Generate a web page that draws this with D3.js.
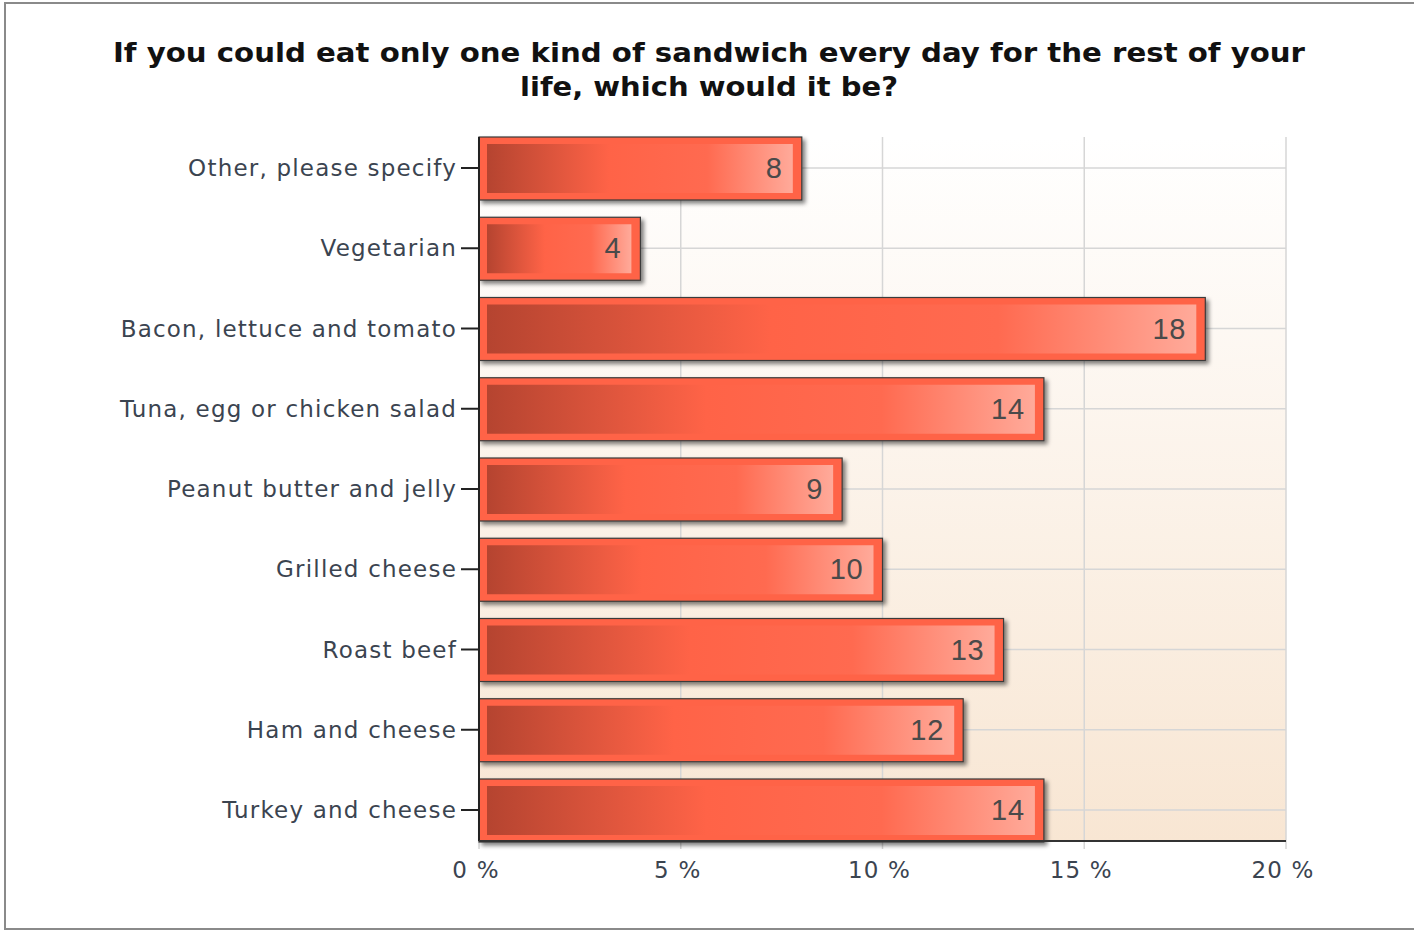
<!DOCTYPE html>
<html><head><meta charset="utf-8">
<script src="https://cdn.jsdelivr.net/npm/d3@7/dist/d3.min.js"></script>
<style>body{margin:0;background:#fff}svg{display:block}</style>
</head><body>
<script>
const categories = ["Other, please specify","Vegetarian","Bacon, lettuce and tomato","Tuna, egg or chicken salad","Peanut butter and jelly","Grilled cheese","Roast beef","Ham and cheese","Turkey and cheese"];
const values = [8,4,18,14,9,10,13,12,14];
const xTicks = [0,5,10,15,20];
const titleLines = ["If you could eat only one kind of sandwich every day for the rest of your","life, which would it be?"];

(function(){
const W=1414,H=931;
const svg=d3.select("body").append("svg").attr("width",W).attr("height",H);
const defs=svg.append("defs");
const bg=defs.append("linearGradient").attr("id","bg").attr("x1",0).attr("y1",0).attr("x2",0).attr("y2",1);
bg.append("stop").attr("offset",0).attr("stop-color","#ffffff");
bg.append("stop").attr("offset",1).attr("stop-color","#f8e6d3");
const bar=defs.append("linearGradient").attr("id","bar").attr("x1",0).attr("y1",0).attr("x2",1).attr("y2",0);
bar.append("stop").attr("offset",0).attr("stop-color","#b54430");
bar.append("stop").attr("offset",0.4).attr("stop-color","#ff6347");
bar.append("stop").attr("offset",0.72).attr("stop-color","#ff6a50");
bar.append("stop").attr("offset",1).attr("stop-color","#ffaa9a");
const f=defs.append("filter").attr("id","sh").attr("x","-10%").attr("y","-20%").attr("width","130%").attr("height","150%");
f.append("feGaussianBlur").attr("in","SourceAlpha").attr("stdDeviation",2);
f.append("feOffset").attr("dx",3).attr("dy",3).attr("result","b");
f.append("feComponentTransfer").append("feFuncA").attr("type","linear").attr("slope",0.5);
const m=f.append("feMerge");m.append("feMergeNode");m.append("feMergeNode").attr("in","SourceGraphic");

svg.append("rect").attr("x",5).attr("y",3).attr("width",W+10).attr("height",926).attr("fill","#fff").attr("stroke","#8a8a8a").attr("stroke-width",2);

const x=d3.scaleLinear().domain([0,20]).range([479,1286]);
const y=d3.scalePoint().domain(categories).range([168,810]);
const pTop=137,pBottom=841,bh=63;

svg.append("rect").attr("x",479).attr("y",pTop).attr("width",1286-479).attr("height",pBottom-pTop).attr("fill","url(#bg)");

svg.append("g").selectAll("line").data(xTicks).join("line")
 .attr("x1",d=>x(d)).attr("x2",d=>x(d)).attr("y1",pTop).attr("y2",pBottom+8)
 .attr("stroke","#d6d6d6").attr("stroke-width",1.5);
svg.append("g").selectAll("line").data(categories).join("line")
 .attr("x1",479).attr("x2",1286).attr("y1",d=>y(d)).attr("y2",d=>y(d))
 .attr("stroke","#d6d6d6").attr("stroke-width",1.5);

const g=svg.append("g").selectAll("g").data(categories).join("g");
g.append("rect").attr("x",x(0)).attr("y",d=>y(d)-31).attr("width",(d,i)=>x(values[i])-x(0)).attr("height",bh)
 .attr("fill","#ff6347").attr("stroke","#3a3a3a").attr("stroke-width",1.2).attr("filter","url(#sh)");
g.append("rect").attr("x",x(0)+8).attr("y",d=>y(d)-24).attr("width",(d,i)=>x(values[i])-x(0)-17).attr("height",bh-14)
 .attr("fill","url(#bar)");
g.append("text").attr("x",(d,i)=>x(values[i])-19).attr("y",d=>y(d)+10)
 .attr("text-anchor","end").attr("font-family","Liberation Sans, Arial, sans-serif").attr("font-size",29)
 .attr("letter-spacing",0.8).attr("fill","#4a4a4a").text((d,i)=>values[i]);

svg.append("line").attr("x1",479).attr("x2",479).attr("y1",pTop).attr("y2",pBottom).attr("stroke","#222").attr("stroke-width",2);
svg.append("line").attr("x1",479).attr("x2",1286).attr("y1",pBottom).attr("y2",pBottom).attr("stroke","#333").attr("stroke-width",2);

svg.append("g").selectAll("line").data(categories).join("line")
 .attr("x1",461).attr("x2",479).attr("y1",d=>y(d)).attr("y2",d=>y(d)).attr("stroke","#222").attr("stroke-width",2);
svg.append("g").selectAll("text").data(categories).join("text")
 .attr("x",457).attr("y",d=>y(d)+8).attr("text-anchor","end")
 .attr("font-family","DejaVu Sans, Verdana, sans-serif").attr("font-size",23).attr("letter-spacing",1.2)
 .attr("fill","#3b4450").text(d=>d);

svg.append("g").selectAll("text").data(xTicks).join("text")
 .attr("x",d=>x(d)-3).attr("y",878).attr("text-anchor","middle")
 .attr("font-family","DejaVu Sans, Verdana, sans-serif").attr("font-size",23).attr("letter-spacing",1.2)
 .attr("fill","#3b4450").text(d=>d+" %");

const tl=[1192,378];
svg.append("g").selectAll("text").data(titleLines).join("text")
 .attr("x",709).attr("y",(d,i)=>62+i*34).attr("text-anchor","middle")
 .attr("font-family","DejaVu Sans, Verdana, sans-serif").attr("font-weight","bold").attr("font-size",27)
 .attr("textLength",(d,i)=>tl[i]).attr("lengthAdjust","spacingAndGlyphs")
 .attr("fill","#111").text(d=>d);
})();
</script>
</body></html>
